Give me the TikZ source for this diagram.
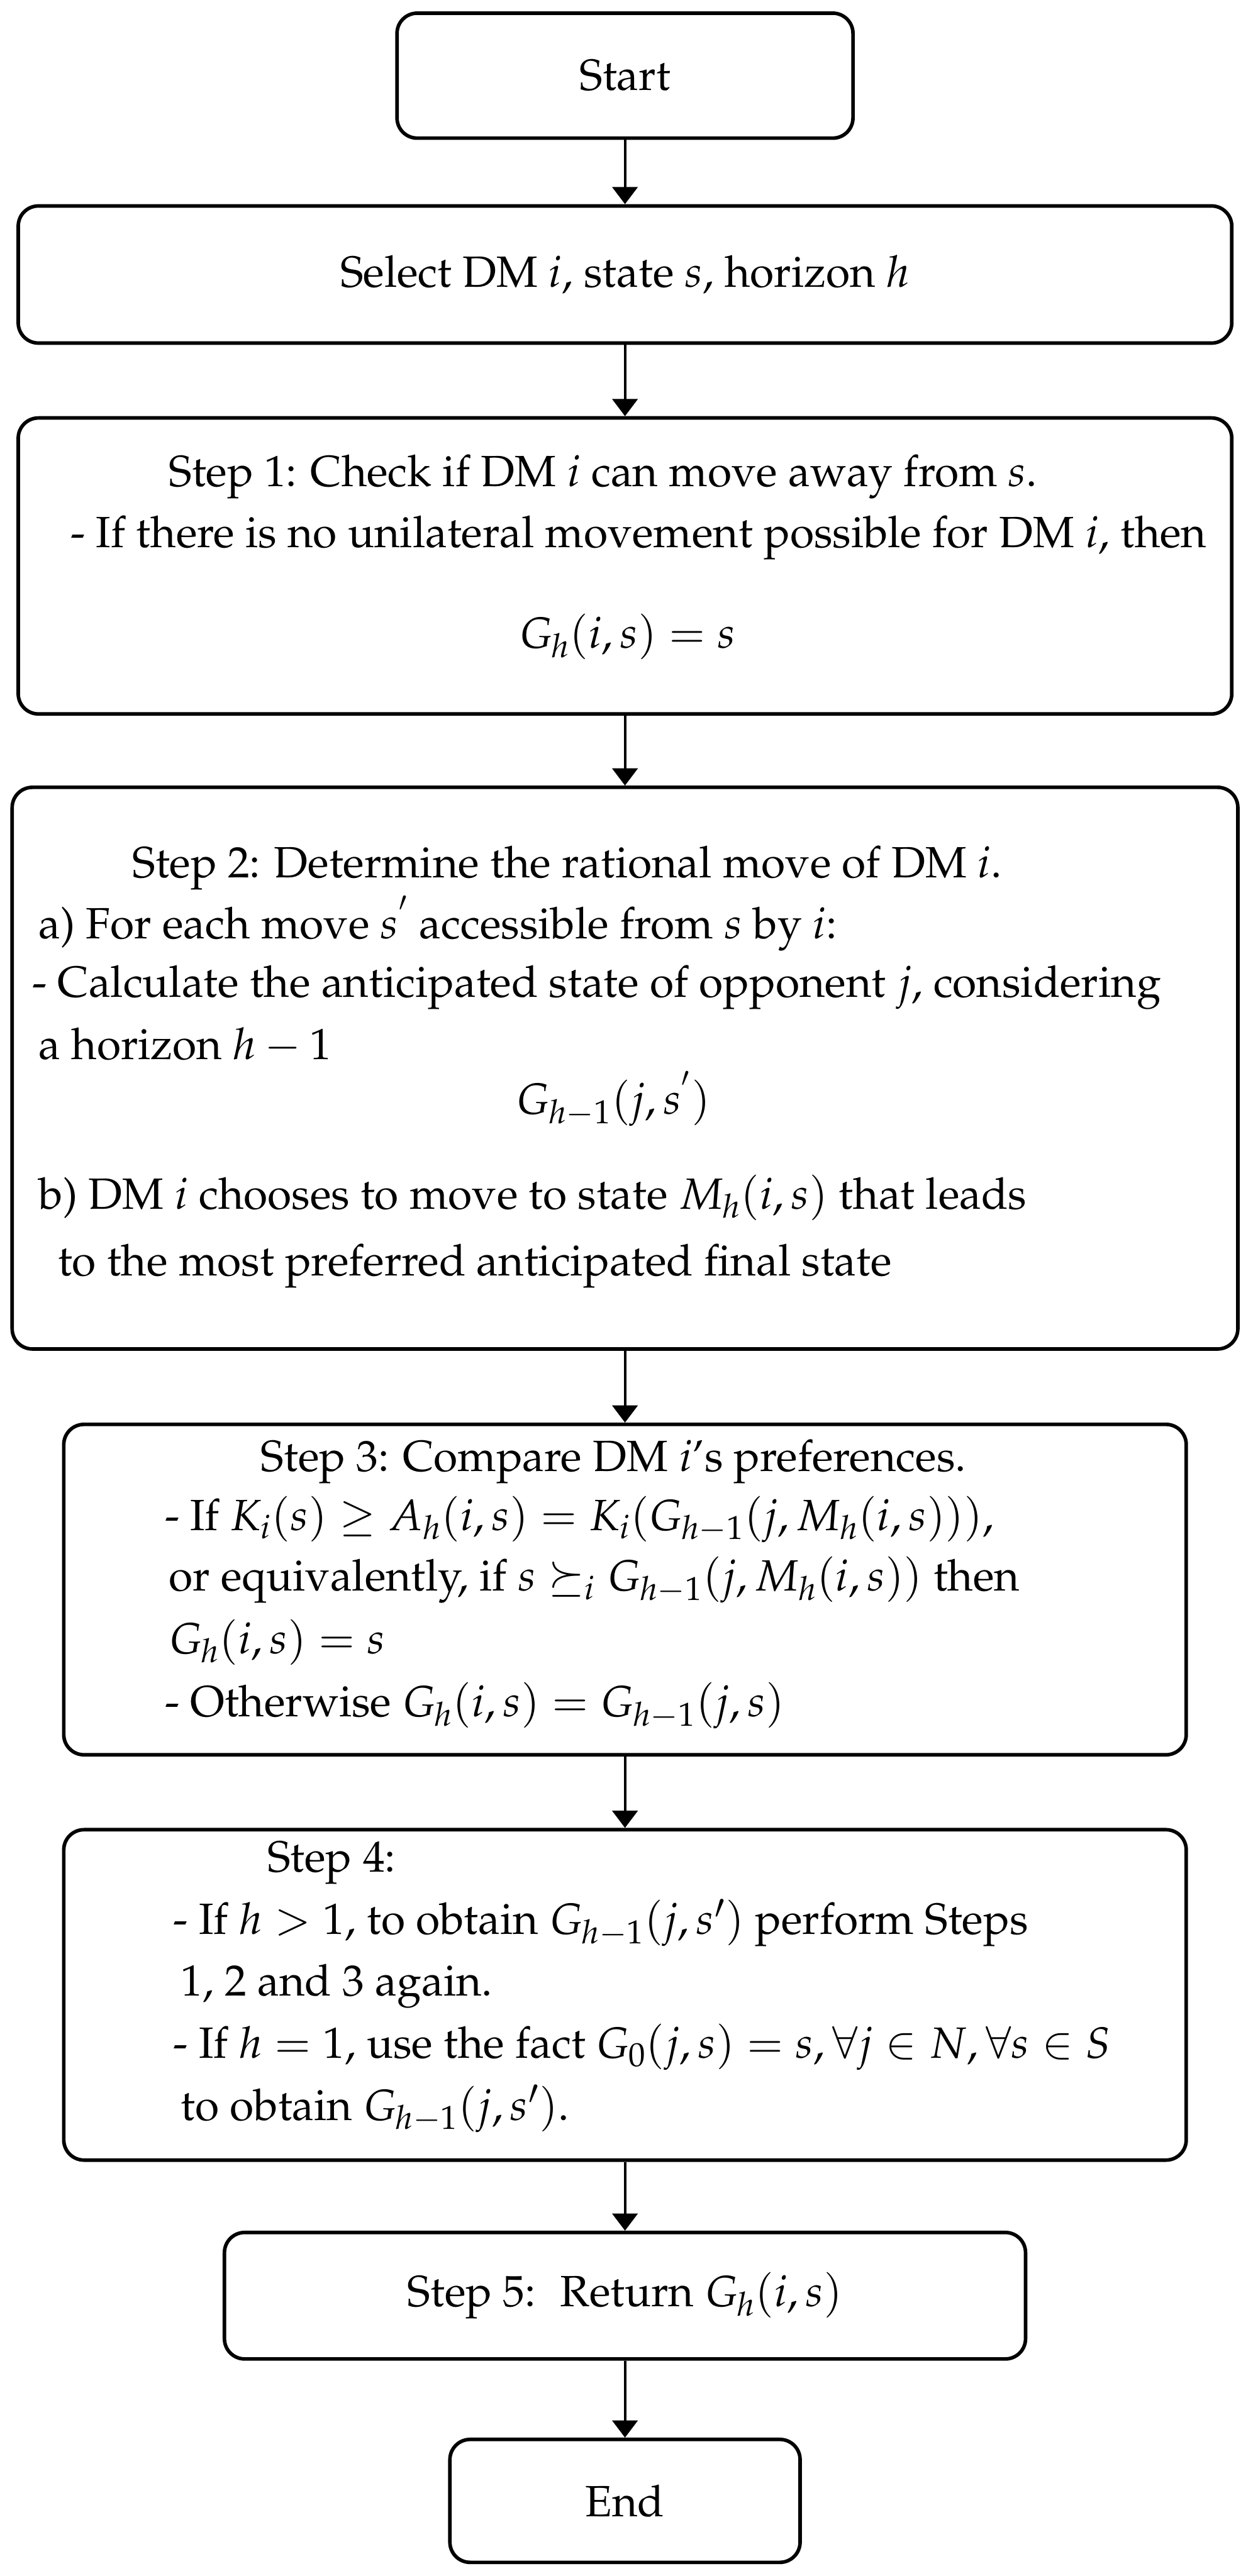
\documentclass[tikz,border=0pt]{standalone}
\usepackage[T1]{fontenc}
\usepackage{mathpazo}
\usetikzlibrary{arrows.meta}

\begin{document}
\begin{tikzpicture}[
    font=\fontsize{24.6}{30}\selectfont,
    % Style for the flow boxes
    box/.style={
        draw,
        line width=2pt,
        rounded corners=0.4cm,
        inner sep=0pt
    },
    % Style for the arrows between boxes
    arr/.style={
        line width=1.5pt,
        -{Triangle[length=3.4mm, width=5mm]}
    },
    % Style for one line of text inside a box
    txt/.style={anchor=base west, inner sep=0pt}
]
\useasboundingbox (0,0) rectangle (24.85,-50.91);

% --- Boxes ---
\node[box, minimum width=9.01cm, minimum height=2.47cm] (start) at (12.35,-1.495) {Start};
\node[box, minimum width=23.98cm, minimum height=2.71cm] (select) at (12.35,-5.425) {Select DM $i$, state $s$, horizon $h$};
\node[box, minimum width=23.98cm, minimum height=5.85cm] (step1) at (12.35,-11.185) {};
\node[box, minimum width=24.22cm, minimum height=11.10cm] (step2) at (12.35,-21.11) {};
\node[box, minimum width=22.18cm, minimum height=6.53cm] (step3) at (12.35,-31.415) {};
\node[box, minimum width=22.18cm, minimum height=6.53cm] (step4) at (12.35,-39.425) {};
\node[box, minimum width=15.83cm, minimum height=2.50cm] (step5) at (12.35,-45.37) {Step 5:~ Return $G_h(i,s)$};
\node[box, minimum width=6.92cm, minimum height=2.43cm] (end) at (12.35,-49.425) {End};

% --- Step 1 text ---
\node[txt] (s1a) at (3.33,-9.62) {Step 1: Check if DM $i$ can move away from $s$.};
\node[txt] (s1b) at (1.39,-10.82) {- If there is no unilateral movement possible for DM $i$, then};
\node[anchor=base, inner sep=0pt] (s1c) at (12.40,-12.81) {$G_h(i,s) = s$};

% --- Step 2 text ---
\node[txt] (s2a) at (2.61,-17.35) {Step 2: Determine the rational move of DM $i$.};
\node[txt] (s2b) at (0.76,-18.55) {a) For each move \smash{$s^{'}$} accessible from $s$ by $i$:};
\node[txt] (s2c) at (0.63,-19.70) {- Calculate the anticipated state of opponent $j$, considering};
\node[txt] (s2d) at (0.76,-20.94) {a horizon $h-1$};
\node[anchor=base, inner sep=0pt] (s2e) at (12.12,-22.02) {$G_{h-1}(j,s^{'})$};
\node[txt] (s2f) at (0.76,-23.89) {b) DM $i$ chooses to move to state $M_h(i,s)$ that leads};
\node[txt] (s2g) at (1.14,-25.21) {to the most preferred anticipated final state};

% --- Step 3 text ---
\node[txt] (s3a) at (5.15,-29.08) {Step 3: Compare DM $i$'s preferences.};
\node[txt] (s3b) at (3.25,-30.24) {- If $K_i(s) \geq A_h(i,s) = K_i(G_{h-1}(j,M_h(i,s)))$,};
\node[txt] (s3c) at (3.33,-31.44) {or equivalently, if $s \succeq_i G_{h-1}(j,M_h(i,s))$ then};
\node[txt] (s3d) at (3.33,-32.68) {$G_h(i,s) = s$};
\node[txt] (s3e) at (3.25,-33.93) {- Otherwise $G_h(i,s) = G_{h-1}(j,s)$};

% --- Step 4 text ---
\node[txt] (s4a) at (5.28,-37.00) {Step 4:};
\node[txt] (s4b) at (3.42,-38.23) {- If $h > 1$, to obtain $G_{h-1}(j,s')$ perform Steps};
\node[txt] (s4c) at (3.57,-39.44) {1, 2 and 3 again.};
\node[txt] (s4d) at (3.42,-40.68) {- If $h = 1$, use the fact $G_0(j,s) = s, \forall j \in N, \forall s \in S$};
\node[txt] (s4e) at (3.57,-41.90) {to obtain $G_{h-1}(j,s')$.};

% --- Arrows ---
\draw[arr] (start) -- (select);
\draw[arr] (select) -- (step1);
\draw[arr] (step1) -- (step2);
\draw[arr] (step2) -- (step3);
\draw[arr] (step3) -- (step4);
\draw[arr] (step4) -- (step5);
\draw[arr] (step5) -- (end);

\end{tikzpicture}
\end{document}
